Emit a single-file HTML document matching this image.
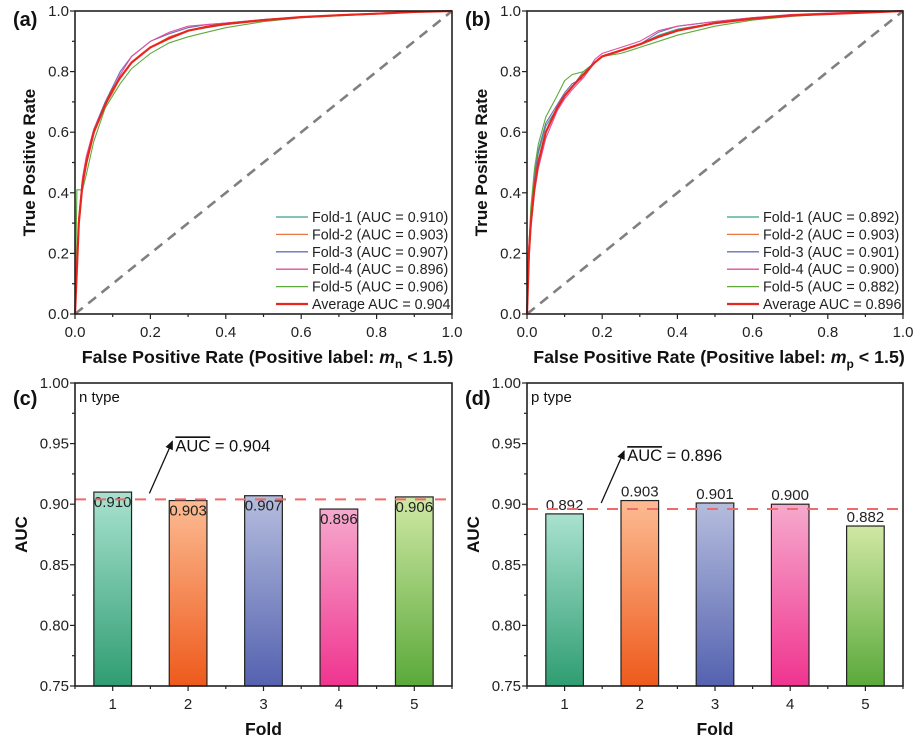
<!DOCTYPE html>
<html><head><meta charset="utf-8"><style>
html,body{margin:0;padding:0;background:#fff;}
svg{display:block;font-family:"Liberation Sans",Arial,sans-serif;}
</style></head><body>
<svg id="fig" width="923" height="742" viewBox="0 0 923 742" xmlns="http://www.w3.org/2000/svg">
<defs>
<linearGradient id="g1" x1="0" y1="0" x2="0" y2="1"><stop offset="0" stop-color="#a9e2d0"/><stop offset="1" stop-color="#2f9d72"/></linearGradient>
<linearGradient id="g2" x1="0" y1="0" x2="0" y2="1"><stop offset="0" stop-color="#fcbb92"/><stop offset="1" stop-color="#ee5a1c"/></linearGradient>
<linearGradient id="g3" x1="0" y1="0" x2="0" y2="1"><stop offset="0" stop-color="#b5bddd"/><stop offset="1" stop-color="#5462b0"/></linearGradient>
<linearGradient id="g4" x1="0" y1="0" x2="0" y2="1"><stop offset="0" stop-color="#f6a9cd"/><stop offset="1" stop-color="#f0348f"/></linearGradient>
<linearGradient id="g5" x1="0" y1="0" x2="0" y2="1"><stop offset="0" stop-color="#d0e8a4"/><stop offset="1" stop-color="#5aa93a"/></linearGradient>
<marker id="arr" markerWidth="10" markerHeight="10" refX="8" refY="5" orient="auto" markerUnits="userSpaceOnUse"><path d="M0,1 L9,5 L0,9 Z" fill="#111"/></marker>
</defs>
</svg>
<script>
// ROC data (shared FPR grid)
const rocFpr = [0,0.005,0.01,0.02,0.03,0.05,0.08,0.1,0.12,0.15,0.18,0.2,0.25,0.3,0.35,0.4,0.5,0.6,0.7,0.8,0.9,1];
const rocA_f1 = [0,0.14,0.3,0.43,0.5,0.6,0.69,0.74,0.78,0.83,0.86,0.88,0.91,0.935,0.945,0.955,0.97,0.98,0.985,0.99,0.997,1];
const rocA_f2 = [0,0.15,0.29,0.42,0.49,0.6,0.69,0.73,0.78,0.83,0.86,0.88,0.915,0.935,0.95,0.96,0.97,0.98,0.985,0.99,0.997,1];
const rocA_f3 = [0,0.16,0.31,0.44,0.51,0.61,0.7,0.75,0.8,0.85,0.88,0.9,0.925,0.945,0.955,0.96,0.972,0.98,0.987,0.992,0.998,1];
const rocA_f4 = [0,0.17,0.32,0.45,0.52,0.61,0.69,0.74,0.79,0.85,0.88,0.9,0.93,0.95,0.955,0.96,0.972,0.98,0.987,0.992,0.998,1];
const rocA_f5 = [0,0.41,0.41,0.41,0.46,0.57,0.68,0.72,0.76,0.81,0.84,0.86,0.895,0.915,0.93,0.945,0.965,0.978,0.984,0.99,0.996,1];
const rocA_avg = [0,0.15,0.3,0.43,0.5,0.6,0.69,0.74,0.78,0.83,0.86,0.88,0.91,0.935,0.948,0.957,0.97,0.98,0.986,0.991,0.997,1];
const rocB_f1 = [0,0.2,0.32,0.45,0.53,0.62,0.68,0.72,0.75,0.8,0.83,0.85,0.87,0.89,0.92,0.94,0.96,0.975,0.985,0.99,0.995,1];
const rocB_f2 = [0,0.18,0.3,0.42,0.5,0.6,0.68,0.72,0.75,0.79,0.83,0.85,0.87,0.89,0.915,0.935,0.96,0.975,0.985,0.99,0.995,1];
const rocB_f3 = [0,0.22,0.33,0.46,0.54,0.63,0.69,0.73,0.76,0.78,0.83,0.85,0.87,0.89,0.93,0.95,0.965,0.978,0.987,0.992,0.997,1];
const rocB_f4 = [0,0.17,0.28,0.4,0.48,0.58,0.67,0.71,0.74,0.78,0.84,0.86,0.88,0.9,0.935,0.95,0.965,0.978,0.988,0.993,0.997,1];
const rocB_f5 = [0,0.22,0.35,0.48,0.56,0.65,0.72,0.77,0.79,0.8,0.83,0.85,0.86,0.88,0.9,0.92,0.95,0.97,0.982,0.99,0.995,1];
const rocB_avg = [0,0.2,0.3,0.42,0.5,0.6,0.68,0.72,0.75,0.79,0.83,0.85,0.87,0.89,0.915,0.935,0.96,0.975,0.985,0.99,0.995,1];
const foldColors = ["#3a9f8c","#e8783e","#6a70b4","#e0509e","#5eab3c","#e8261e"];
const legendA = ["Fold-1 (AUC = 0.910)","Fold-2 (AUC = 0.903)","Fold-3 (AUC = 0.907)","Fold-4 (AUC = 0.896)","Fold-5 (AUC = 0.906)","Average AUC = 0.904"];
const legendB = ["Fold-1 (AUC = 0.892)","Fold-2 (AUC = 0.903)","Fold-3 (AUC = 0.901)","Fold-4 (AUC = 0.900)","Fold-5 (AUC = 0.882)","Average AUC = 0.896"];
const rocTicks = [0,0.2,0.4,0.6,0.8,1.0];
// Bar data
const folds = [1,2,3,4,5];
const aucN = [0.910,0.903,0.907,0.896,0.906];
const aucP = [0.892,0.903,0.901,0.900,0.882];
const meanN = 0.904;
const meanP = 0.896;
const barTicks = [0.75,0.80,0.85,0.90,0.95,1.00];

const NS="http://www.w3.org/2000/svg";
const svg=document.getElementById('fig');
function mk(tag,attrs,parent,text){const e=document.createElementNS(NS,tag);for(const k in attrs)e.setAttribute(k,attrs[k]);if(text!==undefined)e.textContent=text;(parent||svg).appendChild(e);return e;}

function rocPanel(px0,px1,py0,py1,series,legend,label,sub,ltx){
  const g=mk('g',{});
  
  
  const X=v=>px0+v*(px1-px0), Y=v=>py1-v*(py1-py0);
  const d=mk('line',{x1:X(0),y1:Y(0),x2:X(1),y2:Y(1),stroke:'#808080','stroke-width':2.6,'stroke-dasharray':'10 7'},g);
  
  
  series.forEach((s,i)=>{
    const pts=rocFpr.map((f,j)=>X(f).toFixed(1)+','+Y(s[j]).toFixed(1)).join(' ');
    const pl=mk('polyline',{points:pts,fill:'none',stroke:foldColors[i],'stroke-width':i==5?2.2:1.1},g);
    
    
  });
  mk('rect',{x:px0,y:py0,width:px1-px0,height:py1-py0,fill:'none',stroke:'#222','stroke-width':1.6},g);
  for(let k=0;k<=10;k++){
    const v=k/10,major=k%2==0,len=major?5:3;
    mk('line',{x1:X(v),y1:py1,x2:X(v),y2:py1+len,stroke:'#222','stroke-width':1.2},g);
    mk('line',{x1:px0,y1:Y(v),x2:px0-len,y2:Y(v),stroke:'#222','stroke-width':1.2},g);
  }
  rocTicks.forEach(v=>{
    const t1=mk('text',{x:X(v),y:py1+23,'font-size':15,'text-anchor':'middle',fill:'#222'},g,v.toFixed(1));
    
    
    const t2=mk('text',{x:px0-6,y:Y(v)+5,'font-size':15,'text-anchor':'end',fill:'#222'},g,v.toFixed(1));
    
    
  });
  const yt=mk('text',{x:0,y:0,transform:`translate(${px0-40},${(py0+py1)/2}) rotate(-90)`,'font-size':17,'font-weight':'bold','text-anchor':'middle',fill:'#111'},g,'True Positive Rate');
  
  
  const xt=mk('text',{x:(px0+px1)/2+4,y:363,'font-size':17.8,'font-weight':'bold','text-anchor':'middle',fill:'#111'},g);
  
  
  mk('tspan',{},xt,'False Positive Rate (Positive label: ');
  mk('tspan',{'font-style':'italic'},xt,'m');
  mk('tspan',{dy:5,'font-size':12},xt,sub);
  mk('tspan',{dy:-5},xt,' < 1.5)');
  const pl=mk('text',{x:px0-62,y:py0+15,'font-size':20,'font-weight':'bold',fill:'#111'},g,'('+label+')');
  
  
  legend.forEach((t,i)=>{
    const y=217+i*17.4;
    const lg=mk('g',{},g);
    
    
    mk('line',{x1:ltx,y1:y,x2:ltx+32,y2:y,stroke:foldColors[i],'stroke-width':i==5?2.2:1.3},lg);
    mk('text',{x:ltx+36,y:y+5,'font-size':14.3,fill:'#222'},lg,t);
  });
}
rocPanel(75,452,11,314,[rocA_f1,rocA_f2,rocA_f3,rocA_f4,rocA_f5,rocA_avg],legendA,'a','n',276);
rocPanel(527,903,11,314,[rocB_f1,rocB_f2,rocB_f3,rocB_f4,rocB_f5,rocB_avg],legendB,'b','p',727);

function barPanel(px0,px1,py0,py1,vals,mean,label,typ,inside){
  const g=mk('g',{});
  
  
  const X=v=>px0+(v-0.5)/5*(px1-px0), Y=v=>py1-(v-0.75)/0.25*(py1-py0);
  const bw=(px1-px0)/10;
  vals.forEach((v,i)=>{
    const r=mk('rect',{x:X(folds[i])-bw/2,y:Y(v),width:bw,height:Y(0.75)-Y(v),fill:`url(#g${i+1})`,stroke:'#222','stroke-width':1.2},g);
    
    
    const t=mk('text',{x:X(folds[i]),y:inside?Y(v)+15:Y(v)-4,'font-size':15,'text-anchor':'middle',fill:'#222'},g,v.toFixed(3));
    
    
  });
  const ml=mk('line',{x1:px0,y1:Y(mean),x2:px1,y2:Y(mean),stroke:'#ef6a6a','stroke-width':2,'stroke-dasharray':'11 9'},g);
  
  
  mk('rect',{x:px0,y:py0,width:px1-px0,height:py1-py0,fill:'none',stroke:'#222','stroke-width':1.6},g);
  for(let k=0;k<=10;k++){
    const v=0.75+k*0.025,major=k%2==0,len=major?5:3;
    mk('line',{x1:px0,y1:Y(v),x2:px0-len,y2:Y(v),stroke:'#222','stroke-width':1.2},g);
  }
  for(let k=0;k<=10;k++){
    const v=0.5+k*0.5,major=k%2==1;
    mk('line',{x1:X(v),y1:py1,x2:X(v),y2:py1+(major?5:3),stroke:'#222','stroke-width':1.2},g);
  }
  barTicks.forEach(v=>{
    const t=mk('text',{x:px0-6,y:Y(v)+5,'font-size':15,'text-anchor':'end',fill:'#222'},g,v.toFixed(2));
    
    
  });
  folds.forEach(f=>{
    const t=mk('text',{x:X(f),y:py1+23,'font-size':15,'text-anchor':'middle',fill:'#222'},g,String(f));
    
    
  });
  const yt=mk('text',{x:0,y:0,transform:`translate(${px0-48},${(py0+py1)/2}) rotate(-90)`,'font-size':17,'font-weight':'bold','text-anchor':'middle',fill:'#111'},g,'AUC');
  
  
  const xt=mk('text',{x:(px0+px1)/2,y:735,'font-size':17.5,'font-weight':'bold','text-anchor':'middle',fill:'#111'},g,'Fold');
  
  
  const pl=mk('text',{x:px0-62,y:py0+22,'font-size':20,'font-weight':'bold',fill:'#111'},g,'('+label+')');
  
  
  const ty=mk('text',{x:px0+4,y:py0+19,'font-size':15,fill:'#111'},g,typ);
  
  
  const ax=X(1.5)-1, ay=Y(mean)-6;
  const ar=mk('line',{x1:ax,y1:ay,x2:ax+23,y2:ay-52,stroke:'#111','stroke-width':1.3,'marker-end':'url(#arr)'},g);
  
  
  const mt=mk('text',{x:ax+26,y:ay-42,'font-size':16.5,fill:'#111'},g);
  
  
  mk('tspan',{'text-decoration':'overline'},mt,'AUC');
  mk('tspan',{},mt,' = '+mean.toFixed(3));
}
barPanel(75,452,383,686,aucN,meanN,'c','n type',true);
barPanel(527,903,383,686,aucP,meanP,'d','p type',false);
</script>
</body></html>
